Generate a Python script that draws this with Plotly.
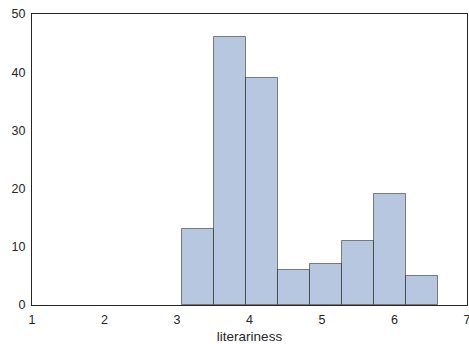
import plotly.graph_objects as go

# Histogram data
bin_start = 3.075
bin_width = 0.44
counts = [13, 46, 39, 6, 7, 11, 19, 5]
x_ticks = [1, 2, 3, 4, 5, 6, 7]
y_ticks = [0, 10, 20, 30, 40, 50]
x_label = "literariness"

centers = [bin_start + bin_width * (i + 0.5) for i in range(len(counts))]

fig = go.Figure(go.Bar(
    x=centers, y=counts, width=[bin_width] * len(counts),
    marker=dict(color="rgba(76,114,176,0.4)",
                line=dict(color="rgba(50,50,50,0.6)", width=1)),
))

axis_common = dict(showgrid=False, zeroline=False, showline=True, linecolor="#262626",
                   linewidth=1.3, mirror=True, ticks="outside", tickcolor="rgba(0,0,0,0)",
                   ticklen=3, automargin=False, ticklabeloverflow="allow",
                   tickfont=dict(family="Liberation Sans, Arial, sans-serif", size=12.5, color="#262626"))

fig.update_layout(
    width=469, height=344,
    margin=dict(l=32, r=2, t=14, b=39),
    plot_bgcolor="white", paper_bgcolor="white",
    showlegend=False, bargap=0,
    xaxis=dict(range=[1, 7], tickvals=x_ticks, title=dict(text=x_label, standoff=9,
               font=dict(family="Liberation Sans, Arial, sans-serif", size=13.5, color="#262626")),
               **axis_common),
    yaxis=dict(range=[0, 50], tickvals=y_ticks, **axis_common),
)

fig.write_html("out.html", config={"displayModeBar": False},
               post_script="document.body.style.margin='0px';document.body.style.overflow='hidden';")
